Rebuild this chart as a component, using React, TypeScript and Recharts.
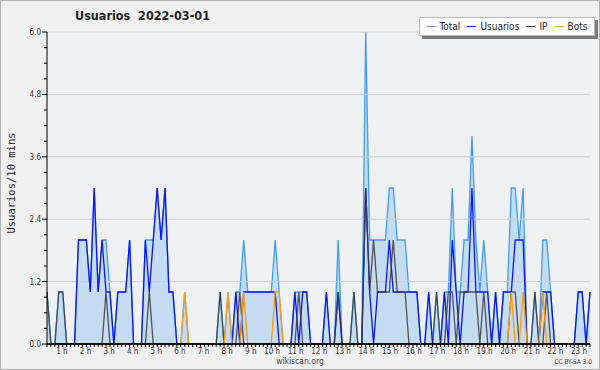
import React from "react"
import {
  Area,
  CartesianGrid,
  ComposedChart,
  Line,
  ReferenceLine,
  XAxis,
  YAxis,
} from "recharts"

// one value every 10 minutes, 00:00 .. 23:00
const usuarios = [
  0, 0, 0, 0, 0, 0, 0, 0, 2, 2, 2, 1, 3, 1, 2, 1, 1, 0, 1, 1, 1, 2, 0, 0,
  0, 2, 1, 2, 3, 2, 3, 1, 1, 0, 0, 0, 0, 0, 0, 0, 0, 0, 0, 0, 0, 0, 0, 0,
  1, 0, 1, 1, 1, 1, 1, 1, 1, 1, 1, 0, 0, 0, 0, 1, 0, 1, 1, 0, 0, 0, 0, 1,
  0, 0, 1, 0, 0, 0, 0, 0, 0, 3, 1, 0, 1, 1, 1, 2, 1, 1, 1, 1, 1, 1, 1, 0,
  0, 1, 0, 0, 0, 1, 0, 2, 1, 0, 1, 1, 3, 1, 1, 1, 1, 0, 1, 0, 1, 1, 1, 2,
  2, 2, 0, 0, 0, 0, 1, 1, 1, 0, 0, 0, 0, 0, 0, 1, 1, 0, 1,
]

const ip = [
  1, 0, 0, 1, 1, 0, 0, 0, 0, 0, 0, 0, 0, 0, 0, 1, 0, 0, 0, 0, 0, 0, 0, 0,
  0, 0, 1, 0, 0, 0, 0, 0, 0, 0, 0, 0, 0, 0, 0, 0, 0, 0, 0, 0, 1, 0, 0, 0,
  0, 1, 0, 0, 0, 0, 0, 0, 0, 0, 0, 0, 0, 0, 0, 0, 1, 0, 0, 0, 0, 0, 0, 0,
  0, 0, 1, 0, 0, 0, 1, 0, 0, 3, 1, 2, 1, 1, 1, 1, 2, 1, 1, 1, 0, 0, 0, 0,
  0, 0, 0, 1, 0, 0, 1, 1, 0, 1, 1, 1, 1, 1, 0, 1, 0, 0, 0, 0, 0, 0, 1, 1,
  0, 0, 0, 0, 1, 0, 0, 1, 0, 0, 0, 0, 0, 0, 0, 0, 0, 0, 0,
]

const bots = [
  0, 0, 0, 0, 0, 0, 0, 0, 0, 0, 0, 0, 0, 0, 0, 0, 0, 0, 0, 0, 0, 0, 0, 0,
  0, 0, 0, 0, 0, 0, 0, 0, 0, 0, 0, 1, 0, 0, 0, 0, 0, 0, 0, 0, 0, 0, 1, 0,
  0, 0, 1, 0, 0, 0, 0, 0, 0, 0, 1, 1, 0, 0, 0, 0, 0, 0, 0, 0, 0, 0, 0, 0,
  0, 0, 0, 0, 0, 0, 0, 0, 0, 0, 0, 0, 0, 0, 0, 0, 0, 0, 0, 0, 0, 0, 0, 0,
  0, 0, 0, 0, 0, 0, 0, 0, 0, 0, 0, 0, 0, 0, 0, 0, 0, 0, 0, 0, 0, 0, 1, 0,
  0, 1, 0, 0, 0, 0, 1, 0, 0, 0, 0, 0, 0, 0, 0, 0, 0, 0, 0,
]

const total = [
  1, 0, 0, 1, 1, 0, 0, 0, 2, 2, 2, 1, 3, 1, 2, 2, 1, 0, 1, 1, 1, 2, 0, 0,
  0, 2, 2, 2, 3, 2, 3, 1, 1, 0, 0, 1, 0, 0, 0, 0, 0, 0, 0, 0, 1, 0, 1, 0,
  1, 1, 2, 1, 1, 1, 1, 1, 1, 1, 2, 1, 0, 0, 0, 1, 1, 1, 1, 0, 0, 0, 0, 1,
  0, 0, 2, 0, 0, 0, 1, 0, 0, 6, 2, 2, 2, 2, 2, 3, 3, 2, 2, 2, 1, 1, 1, 0,
  0, 1, 0, 1, 0, 1, 1, 3, 1, 1, 2, 2, 4, 2, 1, 2, 1, 0, 1, 0, 1, 1, 3, 3,
  2, 3, 0, 0, 1, 0, 2, 2, 1, 0, 0, 0, 0, 0, 0, 1, 1, 0, 1,
]

const hourLabels = [
  "1 h", "2 h", "3 h", "4 h", "5 h", "6 h", "7 h", "8 h", "9 h", "10 h", "11 h", "12 h",
  "13 h", "14 h", "15 h", "16 h", "17 h", "18 h", "19 h", "20 h", "21 h", "22 h", "23 h",
]

const yMajor = [0, 1.2, 2.4, 3.6, 4.8, 6.0]
const yTicks = [
  0, 0.3, 0.6, 0.9, 1.2, 1.5, 1.8, 2.1, 2.4, 2.7, 3.0, 3.3, 3.6, 3.9, 4.2, 4.5,
  4.8, 5.1, 5.4, 5.7, 6.0,
]

const colors = {
  total: "#3f9cf2",
  fill: "#c4dcf1",
  usuarios: "#0a14f5",
  ip: "#3a3a3a",
  bots: "#ff9a0a",
}

const data = total.map((t, i) => ({
  i,
  total: t,
  usuarios: usuarios[i],
  ip: ip[i],
  bots: bots[i],
}))

const xTicks = data.map((d) => d.i)

const XTick = (props: any) => {
  const { x, y, payload } = props
  const v = payload.value as number
  const isHour = v > 0 && v % 6 === 0
  return (
    <g>
      <line x1={x} x2={x} y1={y} y2={y + 3} stroke="#000" strokeWidth={1} />
      {isHour && (
        <text
          x={x - 3}
          y={y + 10}
          textAnchor="end"
          fontSize={8}
          fontFamily="DejaVu Sans Condensed, DejaVu Sans"
          fill="#333"
        >
          {hourLabels[v / 6 - 1]}
        </text>
      )}
    </g>
  )
}

const YTick = (props: any) => {
  const { x, y, payload } = props
  const v = payload.value as number
  const major = yMajor.some((m) => Math.abs(m - v) < 0.001)
  return (
    <g>
      <line x1={x - (major ? 5 : 3)} x2={x} y1={y} y2={y} stroke="#000" strokeWidth={1} />
      {major && (
        <text
          x={x - 6}
          y={y + 3}
          textAnchor="end"
          fontSize={8}
          fontFamily="DejaVu Sans Condensed, DejaVu Sans"
          fill="#333"
        >
          {v.toFixed(1)}
        </text>
      )}
    </g>
  )
}

const legendItems = [
  { label: "Total", color: colors.total },
  { label: "Usuarios", color: colors.usuarios },
  { label: "IP", color: colors.ip },
  { label: "Bots", color: colors.bots },
]

export default function App() {
  return (
    <div
      style={{
        position: "absolute",
        left: 0,
        top: 0,
        width: 598,
        height: 368,
        background: "#f0f0f0",
        border: "1px solid #b0b0b0",
        fontFamily: "DejaVu Sans Condensed, DejaVu Sans",
      }}
    >
      <div
        style={{
          position: "absolute",
          left: 74,
          top: 7,
          fontSize: 12.5,
          fontWeight: "bold",
          color: "#222",
          whiteSpace: "pre",
        }}
      >
        {"Usuarios  2022-03-01"}
      </div>

      <ComposedChart
        width={598}
        height={368}
        data={data}
        margin={{ top: 31, right: 9, bottom: 0, left: 0 }}
      >
        <CartesianGrid fill="#eef0f2" stroke="none" horizontal={false} vertical={false} />
        {yMajor.slice(1).map((m) => (
          <ReferenceLine key={m} y={m} stroke="#cccccc" strokeWidth={1} />
        ))}
        <XAxis
          dataKey="i"
          type="number"
          domain={[0, 138]}
          ticks={xTicks}
          interval={0}
          tick={<XTick />}
          tickLine={false}
          tickSize={0}
          tickMargin={0}
          axisLine={{ stroke: "#000" }}
          height={25}
          allowDecimals={false}
        />
        <YAxis
          type="number"
          domain={[0, 6]}
          ticks={yTicks}
          interval={0}
          tick={<YTick />}
          tickLine={false}
          tickSize={0}
          tickMargin={0}
          axisLine={{ stroke: "#000" }}
          width={46}
        />
        <Area
          type="linear"
          dataKey="total"
          stroke={colors.total}
          strokeWidth={1.3}
          fill={colors.fill}
          fillOpacity={1}
          dot={false}
          activeDot={false}
          isAnimationActive={false}
        />
        <Line
          type="linear"
          dataKey="usuarios"
          stroke={colors.usuarios}
          strokeWidth={1.3}
          dot={false}
          activeDot={false}
          isAnimationActive={false}
        />
        <Line
          type="linear"
          dataKey="ip"
          stroke={colors.ip}
          strokeWidth={1.3}
          strokeOpacity={0.85}
          dot={false}
          activeDot={false}
          isAnimationActive={false}
        />
        <Line
          type="linear"
          dataKey="bots"
          stroke={colors.bots}
          strokeWidth={1.3}
          dot={false}
          activeDot={false}
          isAnimationActive={false}
        />
        <ReferenceLine y={0} stroke="#000" strokeWidth={1.5} />
      </ComposedChart>

      <div
        style={{
          position: "absolute",
          left: 10,
          top: 182,
          transform: "translate(-50%, -50%) rotate(-90deg)",
          transformOrigin: "center",
          fontFamily: "DejaVu Sans Mono",
          fontSize: 10.5,
          color: "#222",
          whiteSpace: "nowrap",
        }}
      >
        Usuarios/10 mins
      </div>

      <div
        style={{
          position: "absolute",
          left: 418,
          top: 16,
          width: 168,
          height: 17,
          background: "#fff",
          border: "1px solid #b8b8b8",
          boxShadow: "3px 3px 0 #7a7a7a",
          display: "flex",
          alignItems: "center",
          justifyContent: "space-around",
          fontSize: 10,
          color: "#222",
          padding: "0 3px",
          boxSizing: "content-box",
        }}
      >
        {legendItems.map((it) => (
          <span key={it.label} style={{ display: "flex", alignItems: "center" }}>
            <span
              style={{
                display: "inline-block",
                width: 9,
                height: 1,
                background: it.color,
                marginRight: 4,
              }}
            />
            {it.label}
          </span>
        ))}
      </div>

      <div
        style={{
          position: "absolute",
          left: 0,
          width: 598,
          top: 355,
          textAlign: "center",
          fontSize: 8.5,
          color: "#444",
        }}
      >
        wikiscan.org
      </div>
      <div
        style={{
          position: "absolute",
          right: 7,
          top: 357,
          fontSize: 6.5,
          color: "#444",
        }}
      >
        CC BY-SA 3.0
      </div>
    </div>
  )
}
